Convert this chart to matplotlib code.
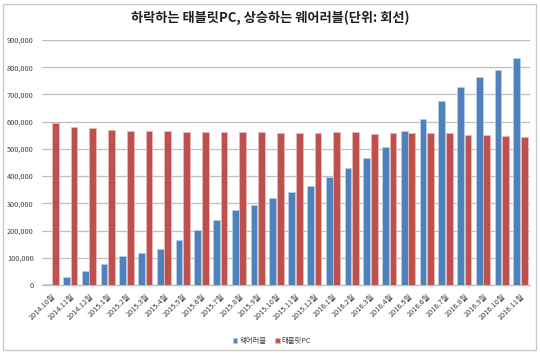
import matplotlib
matplotlib.use("Agg")
import matplotlib.pyplot as plt
import numpy as np
from matplotlib.patches import Rectangle
from matplotlib.ticker import FuncFormatter, MultipleLocator

plt.rcParams['font.family'] = ['Noto Sans CJK KR', 'DejaVu Sans']

title = "하락하는 태블릿PC, 상승하는 웨어러블(단위: 회선)"
months = ["2014.10월", "2014.11월", "2014.12월",
          "2015.1월", "2015.2월", "2015.3월", "2015.4월", "2015.5월", "2015.6월",
          "2015.7월", "2015.8월", "2015.9월", "2015.10월", "2015.11월", "2015.12월",
          "2016.1월", "2016.2월", "2016.3월", "2016.4월", "2016.5월", "2016.6월",
          "2016.7월", "2016.8월", "2016.9월", "2016.10월", "2016.11월"]
wearable = [3000, 28000, 50000, 77000, 105000, 118000, 132000, 164000, 201000,
            238000, 274000, 293000, 320000, 342000, 363000, 397000, 429000,
            467000, 508000, 565000, 610000, 676000, 728000, 763000, 791000, 835000]
tablet = [594000, 582000, 575000, 570000, 566000, 565000, 564000, 562000, 562000,
          562000, 562000, 562000, 559000, 558000, 558000, 561000, 562000,
          555000, 558000, 558000, 560000, 558000, 551000, 550000, 548000, 545000]
series_names = ["웨어러블", "태블릿PC"]

W, H = 540, 353
fig = plt.figure(figsize=(W / 100, H / 100), dpi=100)
fig.patch.set_facecolor("white")
fig.add_artist(Rectangle((3 / W, 3 / H), 533 / W, 346 / H, transform=fig.transFigure,
                         fill=False, edgecolor="#c8c8c8", linewidth=1.0))

ax = fig.add_axes([42 / W, 1 - 285 / H, 488 / W, 245 / H])
x = np.arange(len(months))
bw = 0.36
blue = "#4F81BD"
red = "#C0504D"
ax.bar(x - 0.2, wearable, bw, color=blue, edgecolor="#b9cde5", linewidth=0.6,
       label=series_names[0], zorder=3)
ax.bar(x + 0.2, tablet, bw, color=red, edgecolor="#e6b9b8", linewidth=0.6,
       label=series_names[1], zorder=3)

ax.set_xlim(-0.5, len(months) - 0.5)
ax.set_ylim(0, 900000)
ax.yaxis.set_major_locator(MultipleLocator(100000))
ax.yaxis.set_major_formatter(FuncFormatter(lambda v, p: f"{int(v):,}"))
ax.grid(axis="y", color="#bfbfbf", linewidth=0.9, zorder=0)
for s in ["top", "right", "left"]:
    ax.spines[s].set_visible(False)
ax.spines["bottom"].set_color("#bfbfbf")
ax.spines["bottom"].set_linewidth(0.9)
ax.tick_params(axis="y", length=0, labelsize=5.3, pad=6, labelcolor="#404040")
ax.tick_params(axis="x", length=0, labelsize=5.3, pad=5, labelcolor="#404040")
ax.set_xticks(x)
ax.set_xticklabels(months, rotation=45, ha="right", rotation_mode="anchor")

fig.text(0.5, 1 - 18 / H, title, ha="center", va="center", fontsize=9.5,
         fontweight="bold", color="#202020")

leg = fig.legend(loc="center", bbox_to_anchor=(272 / W, 1 - 341 / H), ncol=2,
                 frameon=False, fontsize=5.3, handlelength=0.6, handleheight=0.6,
                 handletextpad=0.3, columnspacing=1.2)
for t in leg.get_texts():
    t.set_color("#404040")

fig.savefig("out.png", dpi=100)
